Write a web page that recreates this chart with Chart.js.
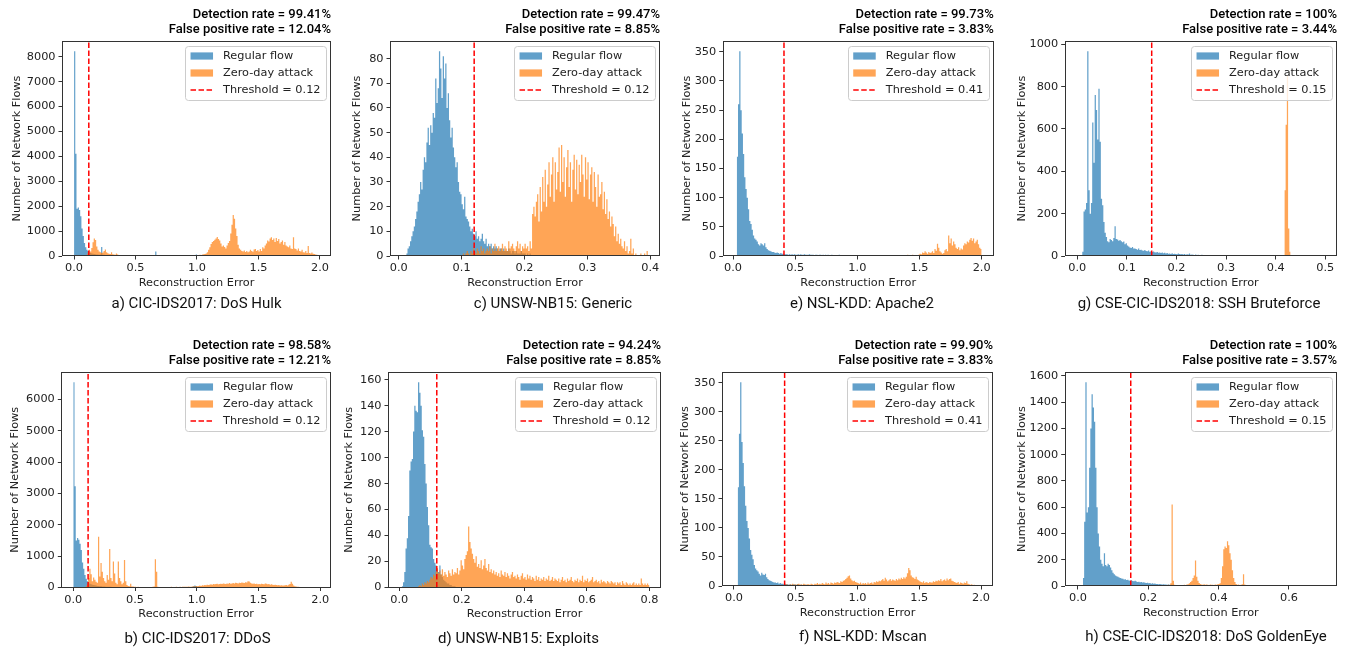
<!DOCTYPE html>
<html>
<head>
<meta charset="utf-8">
<title>Reconstruction error histograms</title>
<script src="https://cdn.jsdelivr.net/npm/chart.js@4.4.1/dist/chart.umd.min.js"></script>
<style>
  html, body { margin: 0; padding: 0; background: #ffffff; }
  #grid { position: relative; width: 1346px; height: 652px; overflow: hidden; }
  #grid canvas { position: absolute; }
</style>
</head>
<body>
<div id="grid"></div>
<script>
// ---------------------------------------------------------------
// Panel text
// ---------------------------------------------------------------
const captions = [
  'a) CIC-IDS2017: DoS Hulk', 'b) CIC-IDS2017: DDoS',
  'c) UNSW-NB15: Generic', 'd) UNSW-NB15: Exploits',
  'e) NSL-KDD: Apache2', 'f) NSL-KDD: Mscan',
  'g) CSE-CIC-IDS2018: SSH Bruteforce', 'h) CSE-CIC-IDS2018: DoS GoldenEye'
];
const detectionRates = ['99.41%', '98.58%', '99.47%', '94.24%', '99.73%', '99.90%', '100%', '100%'];
const falsePositiveRates = ['12.04%', '12.21%', '8.85%', '8.85%', '3.83%', '3.83%', '3.44%', '3.57%'];
const thresholds = [0.12, 0.12, 0.12, 0.12, 0.41, 0.41, 0.15, 0.15];
const seriesLabels = ['Regular flow', 'Zero-day attack'];
const xAxisLabel = 'Reconstruction Error';
const yAxisLabel = 'Number of Network Flows';

// tick spacing of each panel
const xTickSteps = [0.5, 0.5, 0.1, 0.2, 0.5, 0.5, 0.1, 0.2];
const yTickSteps = [1000, 1000, 10, 20, 50, 50, 200, 200];

// histogram bins: width and first bin edge of each series
const binWidths = [0.01, 0.01, 0.002, 0.004, 0.01, 0.01, 0.0025, 0.0035];
const regularStarts = [0, 0, 0.012, 0.008, 0.03, 0.03, 0.0075, 0.014];
const attackStarts = [0.10, 0.10, 0.100, 0.060, 1.40, 0.40, 0.4175, 0.245];

// ---------------------------------------------------------------
// Bin counts
// ---------------------------------------------------------------
// a) CIC-IDS2017: DoS Hulk
const regularA = [
  8220, 4100, 1900, 1950, 1850, 1600, 1100, 800, 520, 350,
  250, 200, 150, 120, 100, 90, 80, 70, 60, 60,
  50, 60, 360, 50, 50, 40, 30, 30, 25, 20,
  20, 15, 15, 15, 10, 10, 10, 10, 10, 10,
  10, 5, 5, 5, 5, 5, 5, 5, 5, 10,
  40, 5, 5, 5, 5, 5, 5, 5, 5, 5,
  5, 5, 5, 5, 5, 5, 180, 5, 5, 5,
  0, 0, 0, 0, 0, 0, 0, 0, 0, 0,
  0, 0, 0, 0, 0, 0, 0, 0, 0, 0,
  0, 0, 0, 0, 0, 0, 0, 0, 20, 60,
  20
];
const attackA = [
  60, 150, 250, 180, 320, 550, 700, 640, 380, 250,
  180, 150, 120, 140, 200, 260, 150, 110, 90, 80,
  150, 70, 60, 50, 100, 60, 40, 35, 40, 30,
  25, 20, 30, 20, 15, 20, 15, 10, 15, 10,
  20, 10, 10, 15, 10, 10, 10, 10, 10, 10,
  5, 10, 10, 5, 10, 10, 5, 10, 5, 5,
  5, 5, 10, 5, 5, 5, 5, 5, 10, 5,
  5, 5, 5, 10, 5, 5, 5, 10, 5, 10,
  10, 15, 10, 15, 20, 15, 25, 20, 30, 40,
  30, 40, 50, 40, 60, 70, 80, 100, 150, 250,
  350, 480, 560, 600, 650, 700, 760, 680, 620, 500,
  380, 420, 360, 300, 420, 520, 600, 900, 1250, 1650,
  1500, 1100, 800, 450, 300, 250, 200, 180, 220, 160,
  200, 150, 180, 250, 200, 170, 260, 280, 200, 240,
  180, 280, 200, 350, 300, 420, 500, 620, 580, 700,
  750, 640, 700, 560, 720, 600, 680, 500, 560, 620,
  450, 560, 420, 380, 350, 420, 300, 280, 750, 300,
  280, 220, 300, 200, 180, 250, 150, 140, 200, 120,
  400, 120, 100, 140, 90, 80, 60, 50, 40, 30
];

// b) CIC-IDS2017: DDoS
const regularB = [
  6550, 3230, 1500, 1580, 1520, 1400, 1200, 800, 600, 400,
  280, 200, 150, 120, 100, 90, 80, 70, 60, 50,
  50, 40, 45, 35, 30, 30, 25, 25, 20, 20,
  20, 15, 15, 15, 10, 10, 10, 10, 10, 10,
  10, 10, 5, 5, 5, 5, 5, 5, 5, 5,
  5, 5, 5, 5, 5, 5, 5, 5, 5, 5,
  5, 5, 5, 5, 5, 5, 5, 5, 5, 5,
  0, 0, 0, 0, 0, 0, 0, 0, 0, 0,
  0, 0, 0, 0, 0, 0, 0, 0, 0, 0,
  0, 0, 0, 0, 0, 10, 20, 40, 60, 50,
  20
];
const attackB = [
  50, 100, 300, 600, 420, 200, 320, 250, 180, 150,
  1620, 350, 780, 500, 300, 200, 150, 400, 250, 1230,
  300, 200, 830, 450, 150, 100, 830, 300, 200, 100,
  150, 880, 200, 80, 50, 40, 120, 30, 30, 20,
  20, 15, 20, 15, 10, 15, 10, 10, 15, 10,
  10, 10, 15, 10, 20, 30, 900, 500, 20, 10,
  10, 10, 10, 15, 10, 10, 15, 10, 10, 20,
  10, 15, 10, 20, 10, 15, 20, 15, 20, 20,
  20, 25, 20, 30, 25, 20, 30, 40, 30, 50,
  40, 50, 60, 50, 70, 60, 80, 70, 90, 80,
  90, 100, 90, 110, 100, 110, 120, 100, 110, 120,
  110, 130, 120, 110, 130, 120, 140, 120, 130, 140,
  130, 150, 140, 130, 150, 140, 160, 150, 140, 170,
  160, 200, 190, 150, 130, 120, 130, 110, 120, 100,
  110, 100, 120, 110, 100, 130, 120, 100, 110, 90,
  100, 90, 80, 90, 80, 70, 80, 60, 70, 60,
  60, 70, 80, 60, 90, 110, 180, 120, 60, 40,
  30, 20, 20, 10, 10
];

// c) UNSW-NB15: Generic
const regularC = [
  1, 3, 4, 6, 8, 10, 12, 15, 18, 22,
  25, 30, 27, 35, 40, 38, 46, 52, 45, 53,
  50, 58, 56, 72, 62, 68, 83, 76, 64, 81,
  72, 78, 60, 66, 55, 48, 52, 44, 40, 36,
  38, 30, 26, 25, 21, 19, 24, 16, 15, 14,
  12, 10, 11, 9, 8, 10, 7, 8, 6, 7,
  9, 6, 5, 7, 4, 5, 4, 5, 3, 4,
  3, 4, 3, 2, 3, 3, 2, 3, 2, 2,
  2, 3, 2, 1, 2, 2, 1, 2, 1, 1,
  1, 2, 1, 1, 1, 0, 1, 0, 1, 0
];
const attackC = [
  0, 1, 0, 1, 2, 1, 0, 2, 1, 3,
  2, 1, 3, 2, 1, 4, 2, 3, 1, 2,
  3, 2, 4, 1, 3, 2, 5, 2, 3, 4,
  2, 3, 5, 2, 4, 3, 2, 6, 3, 4,
  5, 3, 2, 4, 6, 3, 5, 2, 4, 3,
  5, 3, 4, 2, 6, 3, 17, 20, 16, 22,
  25, 14, 28, 18, 32, 22, 35, 20, 29, 38,
  24, 33, 40, 22, 38, 27, 34, 44, 26, 45,
  30, 40, 24, 36, 43, 28, 38, 22, 35, 41,
  27, 39, 25, 37, 30, 41, 33, 24, 40, 31,
  38, 23, 33, 36, 22, 34, 28, 20, 33, 24,
  25, 30, 19, 26, 17, 23, 15, 18, 12, 16,
  13, 8, 12, 6, 9, 5, 7, 4, 3, 6,
  2, 4, 1, 2, 7, 1, 3, 0, 1, 0,
  0, 0, 1, 0, 0, 1, 0, 2, 0, 0
];

// d) UNSW-NB15: Exploits
const regularD = [
  1, 4, 12, 30, 38, 55, 90, 97, 99, 120,
  140, 136, 135, 158, 150, 140, 121, 116, 95, 80,
  62, 48, 33, 31, 30, 22, 19, 17, 14, 12,
  17, 10, 8, 6, 5, 4, 3, 3, 2, 2,
  1, 1, 1, 0
];
const attackD = [
  1, 2, 1, 3, 2, 4, 3, 5, 4, 6,
  8, 7, 10, 9, 12, 15, 11, 13, 10, 14,
  9, 12, 10, 8, 13, 11, 9, 14, 10, 12,
  11, 15, 10, 13, 21, 17, 14, 22, 25, 28,
  47, 35, 30, 26, 22, 19, 24, 16, 18, 15,
  21, 14, 17, 22, 15, 13, 18, 12, 14, 11,
  13, 10, 12, 9, 11, 8, 13, 10, 9, 12,
  8, 11, 9, 7, 10, 12, 8, 9, 7, 10,
  8, 6, 9, 11, 7, 8, 6, 10, 7, 9,
  6, 8, 7, 5, 9, 6, 8, 5, 7, 6,
  8, 5, 7, 6, 9, 5, 6, 8, 5, 7,
  6, 5, 7, 4, 6, 8, 5, 6, 4, 7,
  5, 6, 8, 5, 4, 6, 5, 7, 4, 6,
  5, 9, 4, 6, 5, 7, 4, 5, 6, 8,
  4, 5, 6, 4, 5, 3, 6, 4, 5, 4,
  3, 5, 4, 3, 5, 4, 3, 4, 2, 4,
  3, 4, 2, 5, 3, 2, 4, 3, 2, 3,
  2, 3, 4, 2, 3, 2, 3, 2, 7, 3,
  2, 3, 2, 3, 2
];

// e) NSL-KDD: Apache2
const regularE = [
  170, 260, 351, 250, 210, 175, 135, 115, 100, 80,
  60, 55, 45, 35, 30, 28, 25, 20, 18, 22,
  20, 18, 22, 15, 12, 10, 9, 8, 7, 7,
  6, 5, 6, 5, 4, 5, 4, 4, 3, 3,
  3, 2, 3, 2, 3, 2, 3, 2, 2, 3,
  2, 3, 2, 2, 3, 2, 2, 2, 3, 2,
  2, 2, 1, 2, 2, 1, 2, 2, 1, 2,
  1, 2, 1, 2, 1, 1, 2, 1, 1, 1,
  1, 1, 2, 1, 0
];
const attackE = [
  2, 0, 1, 0, 2, 0, 1, 0, 0, 2,
  4, 3, 6, 5, 8, 6, 4, 7, 5, 6,
  8, 5, 12, 9, 21, 14, 8, 6, 4, 5,
  10, 12, 8, 35, 22, 30, 18, 25, 20, 14,
  12, 15, 10, 13, 11, 18, 22, 20, 25, 23,
  28, 31, 26, 30, 22, 25, 28, 20, 14, 12
];

// f) NSL-KDD: Mscan
const regularF = [
  170, 262, 351, 248, 212, 172, 138, 112, 100, 82,
  62, 54, 46, 36, 30, 27, 25, 21, 18, 23,
  20, 19, 21, 15, 12, 10, 9, 8, 7, 6,
  6, 5, 6, 4, 5, 4, 4, 3, 4, 3,
  3, 2, 3, 2, 2, 3, 2, 2, 3, 2,
  2, 2, 1, 2, 1, 2, 1, 1, 1, 0
];
const attackF = [
  1, 2, 3, 2, 1, 3, 2, 4, 2, 3,
  2, 3, 4, 2, 3, 2, 4, 3, 2, 3,
  3, 2, 4, 3, 2, 4, 3, 5, 3, 4,
  3, 5, 4, 3, 6, 4, 5, 3, 6, 5,
  4, 6, 5, 7, 6, 5, 8, 7, 9, 10,
  12, 14, 17, 18, 13, 10, 8, 9, 7, 6,
  5, 4, 6, 3, 5, 4, 5, 3, 6, 4,
  5, 6, 4, 7, 6, 8, 7, 9, 8, 10,
  12, 9, 14, 11, 8, 10, 12, 9, 11, 10,
  9, 12, 10, 13, 11, 14, 12, 15, 13, 16,
  22, 31, 27, 18, 15, 14, 12, 16, 11, 10,
  8, 7, 6, 8, 5, 7, 6, 5, 7, 6,
  6, 8, 7, 9, 8, 10, 9, 12, 8, 10,
  11, 9, 13, 10, 12, 13, 9, 8, 7, 6,
  5, 7, 4, 6, 5, 4, 6, 5, 8, 4,
  3, 2, 3, 1, 2, 1
];

// g) CSE-CIC-IDS2018: SSH Bruteforce
const regularG = [
  0, 20, 210, 220, 250, 967, 310, 200, 250, 630,
  440, 760, 690, 550, 790, 540, 270, 240, 160, 110,
  90, 70, 65, 80, 75, 70, 85, 140, 80, 78,
  72, 75, 70, 65, 68, 55, 60, 50, 45, 40,
  38, 42, 35, 36, 33, 30, 35, 28, 30, 26,
  25, 28, 24, 22, 26, 20, 22, 19, 21, 18,
  17, 19, 15, 16, 14, 17, 13, 15, 12, 14,
  11, 12, 10, 13, 9, 11, 10, 8, 12, 9,
  8, 10, 7, 9, 6, 8, 7, 12, 6, 7,
  6, 5, 7, 4, 6, 5, 4, 6, 3, 5,
  4, 3, 5, 3, 4, 2, 3, 4, 2, 3,
  2, 3, 1, 2, 2, 1, 2, 1, 1, 0
];
const attackG = [310, 620, 850, 130, 20];

// h) CSE-CIC-IDS2018: DoS GoldenEye
const regularH = [
  60, 490, 1552, 560, 600, 900, 1200, 1460, 1360, 1250,
  900, 600, 400, 300, 200, 170, 150, 250, 160, 150,
  170, 160, 140, 120, 100, 90, 80, 75, 70, 65,
  60, 58, 55, 50, 52, 45, 48, 42, 40, 44,
  38, 36, 40, 34, 30, 32, 28, 30, 26, 28,
  24, 22, 25, 20, 22, 18, 20, 17, 19, 15,
  16, 14, 15, 13, 12, 14, 11, 12, 10, 11,
  9, 10, 8, 9, 7, 8, 6, 7, 5, 6,
  4, 5, 3, 4, 3, 2, 3
];
const attackH = [
  2, 4, 6, 10, 8, 20, 620, 40, 10, 6,
  4, 6, 3, 5, 8, 6, 10, 8, 12, 14,
  20, 30, 40, 60, 80, 195, 70, 40, 22, 15,
  12, 10, 14, 9, 12, 10, 8, 11, 9, 10,
  8, 12, 10, 14, 16, 20, 60, 150, 280, 300,
  290, 340, 310, 250, 200, 120, 60, 30, 15, 10,
  12, 8, 10, 14, 90, 12, 8, 6, 5, 7,
  4, 6, 5, 3, 6, 4, 5, 3, 4, 5,
  3, 5, 4, 6, 3, 4, 2, 5, 3, 4,
  3, 2, 4, 3, 5, 2, 3, 4, 2, 3,
  6, 3, 4, 2, 3, 5, 2, 3, 4, 2,
  3, 2, 4, 3, 2, 3, 5, 2, 3, 2,
  2, 3, 1, 2, 3, 1, 4, 1
];

const regularCounts = [regularA, regularB, regularC, regularD, regularE, regularF, regularG, regularH];
const attackCounts = [attackA, attackB, attackC, attackD, attackE, attackF, attackG, attackH];

// ---------------------------------------------------------------
// Page layout (page pixels)
// ---------------------------------------------------------------
const canvasBoxes = [
  [0, 0, 336, 326], [0, 326, 336, 326],
  [336, 0, 336, 326], [336, 326, 336, 326],
  [672, 0, 334, 326], [672, 326, 334, 326],
  [1006, 0, 340, 326], [1006, 326, 340, 326]
];
// plot area: left, top, right, bottom
const plotBoxes = [
  [62, 41, 331, 256], [61.3, 372, 331, 587.5],
  [390, 41, 660, 256], [388, 372, 661, 587.5],
  [722.7, 41, 993.7, 256], [722, 372, 993, 586],
  [1064.7, 41, 1337, 256], [1064.7, 372, 1337, 586]
];
const yTitleCenters = [17, 15, 357, 349, 687, 685, 1022, 1022];
const captionCenters = [196.5, 197.5, 553, 518.5, 862, 862.8, 1199, 1206];
const xLimits = [
  [-0.098, 2.09], [-0.097, 2.087],
  [-0.0138, 0.4154], [-0.036, 0.837],
  [-0.083, 2.097], [-0.097, 2.097],
  [-0.0254, 0.5236], [-0.0378, 0.7365]
];

const BLUE = 'rgba(31, 119, 180, 0.7)';
const ORANGE = 'rgba(255, 127, 14, 0.7)';
const THRESHOLD_RED = '#ff0000';
const TEXT = '#222222';
const AXIS = '#333333';
const DEJAVU = 'DejaVu Sans';
const SMALL = 11.3;
const TITLE_HALF_LINE = SMALL * 1.2 / 2;

// turn bin counts into left-edge points of a stepped outline
function histogram(start, width, counts) {
  const pts = counts.map((c, i) => ({ x: +(start + i * width).toFixed(6), y: c }));
  pts.push({ x: +(start + counts.length * width).toFixed(6), y: 0 });
  return pts;
}

// ticks at whole multiples of the step inside the axis range
function stepTicks(step) {
  return scale => {
    const out = [];
    const first = Math.ceil(scale.min / step - 1e-9);
    const last = Math.floor(scale.max / step + 1e-9);
    for (let k = first; k <= last; k++) out.push({ value: +(k * step).toFixed(6) });
    scale.ticks = out;
  };
}

function roundedRect(ctx, x, y, w, h, r) {
  ctx.beginPath();
  ctx.moveTo(x + r, y);
  ctx.lineTo(x + w - r, y);
  ctx.arcTo(x + w, y, x + w, y + r, r);
  ctx.lineTo(x + w, y + h - r);
  ctx.arcTo(x + w, y + h, x + w - r, y + h, r);
  ctx.lineTo(x + r, y + h);
  ctx.arcTo(x, y + h, x, y + h - r, r);
  ctx.lineTo(x, y + r);
  ctx.arcTo(x, y, x + r, y, r);
  ctx.closePath();
}

// frame, in-plot legend, rate header and caption
const panelDecor = {
  id: 'panelDecor',
  afterDatasetsDraw(chart, args, opts) {
    const { ctx, chartArea: a } = chart;
    ctx.save();
    const items = chart.data.datasets.map(ds => ({
      label: ds.label,
      fill: ds.fill ? ds.backgroundColor : null,
      line: ds.fill ? null : ds.borderColor,
      dash: ds.borderDash || []
    }));
    ctx.font = `${SMALL}px "${DEJAVU}"`;
    const textW = Math.max(...items.map(it => ctx.measureText(it.label).width));
    const pad = 5.5, handleW = 22.5, gap = 10, rowStep = 17;
    const boxW = pad + handleW + gap + textW + pad;
    const boxR = a.right - 5;
    const boxL = boxR - boxW;
    const boxT = a.top + 5;
    const boxH = rowStep * items.length + 3;
    roundedRect(ctx, Math.round(boxL) + 0.5, Math.round(boxT) + 0.5, Math.round(boxW), Math.round(boxH), 3);
    ctx.fillStyle = 'rgba(255,255,255,0.8)';
    ctx.fill();
    ctx.strokeStyle = '#cccccc';
    ctx.lineWidth = 1;
    ctx.stroke();
    items.forEach((it, i) => {
      const cy = a.top + 15 + i * rowStep;
      const hx = boxL + pad;
      if (it.fill) {
        ctx.fillStyle = it.fill;
        ctx.fillRect(hx, cy - 3.6, handleW, 7.2);
      } else {
        ctx.strokeStyle = it.line;
        ctx.lineWidth = 1.5;
        ctx.setLineDash(it.dash);
        ctx.beginPath();
        ctx.moveTo(hx, cy);
        ctx.lineTo(hx + handleW, cy);
        ctx.stroke();
        ctx.setLineDash([]);
      }
      ctx.fillStyle = TEXT;
      ctx.textAlign = 'left';
      ctx.textBaseline = 'middle';
      ctx.fillText(it.label, hx + handleW + gap, cy);
    });
    ctx.restore();
  },
  afterDraw(chart, args, opts) {
    const { ctx, chartArea: a } = chart;
    ctx.save();
    // axes box
    ctx.strokeStyle = AXIS;
    ctx.lineWidth = 1;
    const x0 = Math.round(a.left) + 0.5, y0 = Math.round(a.top) + 0.5;
    const x1 = Math.round(a.right) - 0.5, y1 = Math.round(a.bottom) - 0.5;
    ctx.strokeRect(x0, y0, x1 - x0, y1 - y0);
    // header lines, right aligned on the plot
    ctx.fillStyle = '#000000';
    ctx.font = '500 13px Roboto';
    ctx.textAlign = 'right';
    ctx.textBaseline = 'middle';
    ctx.fillText(opts.header[0], a.right, a.top - 26.5);
    ctx.fillText(opts.header[1], a.right, a.top - 11.5);
    // caption under the panel
    ctx.fillStyle = '#111111';
    ctx.font = '15px Roboto';
    ctx.textAlign = 'center';
    ctx.fillText(opts.caption, opts.captionX, a.bottom + opts.captionGap);
    ctx.restore();
  }
};

const grid = document.getElementById('grid');

for (let p = 0; p < 8; p++) {
  const [cx, cy, cw, ch] = canvasBoxes[p];
  const [L, T, R, B] = plotBoxes[p].map((v, i) => v - (i % 2 === 0 ? cx : cy));
  const yTitleX = yTitleCenters[p] - cx;
  const xAxisH = 27 + TITLE_HALF_LINE;
  const padLeft = yTitleX - TITLE_HALF_LINE;

  const canvas = document.createElement('canvas');
  canvas.width = cw;
  canvas.height = ch;
  canvas.style.left = cx + 'px';
  canvas.style.top = cy + 'px';
  canvas.style.width = cw + 'px';
  canvas.style.height = ch + 'px';
  grid.appendChild(canvas);

  const regular = regularCounts[p];
  const attack = attackCounts[p];
  const yMax = 1.05 * Math.max(...regular, ...attack);
  const t = thresholds[p];

  new Chart(canvas, {
    type: 'line',
    data: {
      datasets: [
        {
          label: seriesLabels[0],
          data: histogram(regularStarts[p], binWidths[p], regular),
          backgroundColor: BLUE, borderColor: 'transparent', borderWidth: 0,
          fill: 'origin', stepped: 'before', pointRadius: 0, order: 2
        },
        {
          label: seriesLabels[1],
          data: histogram(attackStarts[p], binWidths[p], attack),
          backgroundColor: ORANGE, borderColor: 'transparent', borderWidth: 0,
          fill: 'origin', stepped: 'before', pointRadius: 0, order: 1
        },
        {
          label: `Threshold = ${t.toFixed(2)}`,
          data: [{ x: t, y: 0 }, { x: t, y: yMax }],
          borderColor: THRESHOLD_RED, borderWidth: 1.5, borderDash: [5.5, 2.5],
          backgroundColor: THRESHOLD_RED,
          fill: false, pointRadius: 0, order: 0
        }
      ]
    },
    options: {
      responsive: false,
      animation: false,
      devicePixelRatio: 1,
      events: [],
      layout: {
        padding: { left: padLeft, top: T, right: cw - R, bottom: ch - B - xAxisH }
      },
      plugins: {
        legend: { display: false },
        tooltip: { enabled: false },
        panelDecor: {
          header: [`Detection rate = ${detectionRates[p]}`, `False positive rate = ${falsePositiveRates[p]}`],
          caption: captions[p],
          captionX: captionCenters[p] - cx,
          captionGap: p % 2 === 0 ? 48 : 51.5
        }
      },
      scales: {
        x: {
          type: 'linear',
          min: xLimits[p][0],
          max: xLimits[p][1],
          afterFit: s => { s.height = xAxisH; },
          afterBuildTicks: stepTicks(xTickSteps[p]),
          ticks: {
            autoSkip: false, maxRotation: 0, padding: 2, color: TEXT,
            font: { family: DEJAVU, size: SMALL },
            callback: v => (Math.abs(v) < 1e-9 ? 0 : v).toFixed(1)
          },
          grid: { display: true, drawOnChartArea: false, drawTicks: true, tickLength: 3.5, tickColor: AXIS, tickWidth: 1 },
          border: { display: false },
          title: { display: true, text: xAxisLabel, color: TEXT, padding: 0, font: { family: DEJAVU, size: SMALL } }
        },
        y: {
          type: 'linear',
          min: 0,
          max: yMax,
          afterFit: s => { s.width = L - padLeft; },
          afterBuildTicks: stepTicks(yTickSteps[p]),
          ticks: {
            autoSkip: false, padding: 3, color: TEXT,
            font: { family: DEJAVU, size: SMALL },
            callback: v => String(Math.round(v))
          },
          grid: { display: true, drawOnChartArea: false, drawTicks: true, tickLength: 3.5, tickColor: AXIS, tickWidth: 1 },
          border: { display: false },
          title: { display: true, text: yAxisLabel, color: TEXT, padding: 0, font: { family: DEJAVU, size: SMALL } }
        }
      }
    },
    plugins: [panelDecor]
  });
}
</script>
</body>
</html>
